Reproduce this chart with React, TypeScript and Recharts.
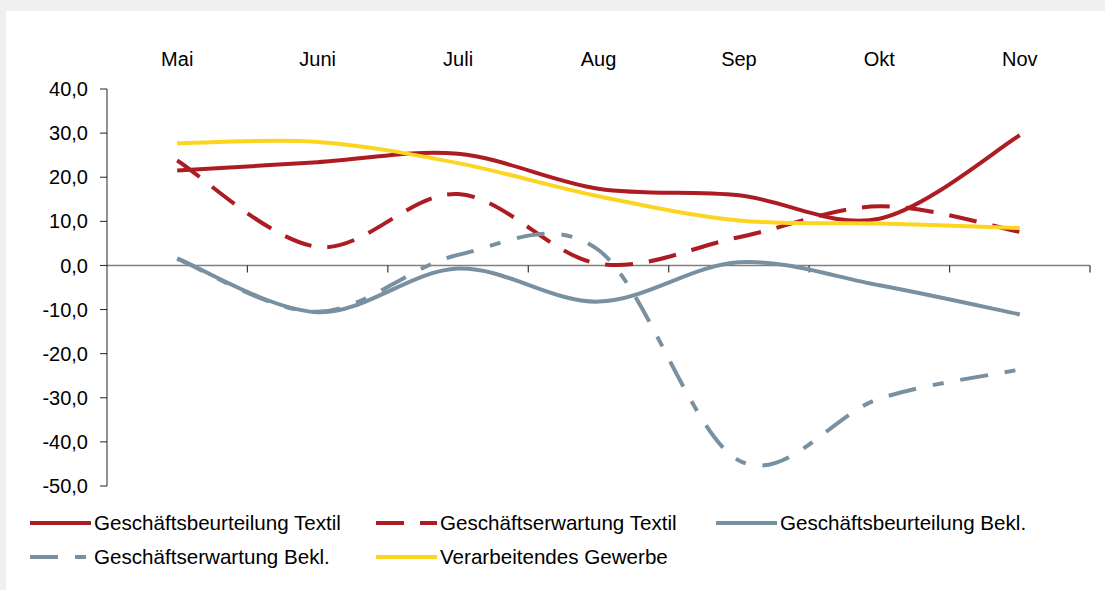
import React from "react";
import { LineChart, Line, XAxis, YAxis, ReferenceLine, Legend } from "recharts";

const months = ["Mai", "Juni", "Juli", "Aug", "Sep", "Okt", "Nov"];
const yTicks = [-50, -40, -30, -20, -10, 0, 10, 20, 30, 40];

const beurteilungTextil = [21.5, 23.4, 25.3, 17.4, 15.9, 10.6, 29.5];
const erwartungTextil = [23.8, 4.2, 16.2, 0.4, 6.4, 13.4, 7.6];
const beurteilungBekl = [1.6, -10.6, -0.7, -8.2, 0.7, -4.5, -11.1];
const erwartungBekl = [1.5, -10.5, 2.4, 3.5, -44.2, -30.2, -23.6];
const verarbeitendesGewerbe = [27.7, 28.0, 23.2, 15.7, 10.2, 9.5, 8.5];

const FONT = "'Liberation Sans', Arial, sans-serif";
const RED = "#AD1C22";
const GREY = "#7890A0";
const YELLOW = "#FDD520";

type Series = { key: string; name: string; values: number[]; color: string; dash?: string };

const series: Series[] = [
  { key: "bt", name: "Geschäftsbeurteilung Textil", values: beurteilungTextil, color: RED },
  { key: "et", name: "Geschäftserwartung Textil", values: erwartungTextil, color: RED, dash: "28 16" },
  { key: "bb", name: "Geschäftsbeurteilung Bekl.", values: beurteilungBekl, color: GREY },
  { key: "eb", name: "Geschäftserwartung Bekl.", values: erwartungBekl, color: GREY, dash: "28 17 11 17" },
  { key: "vg", name: "Verarbeitendes Gewerbe", values: verarbeitendesGewerbe, color: YELLOW },
];

// every month sits in the middle of its band on a 0..7 scale
const data = months.map((m, i) => {
  const row: Record<string, number | string> = { month: m, x: i + 0.5 };
  series.forEach((s) => {
    row[s.key] = s.values[i];
  });
  return row;
});

const monthTicks = months.map((_, i) => i + 0.5);
const bandEdges = months.map((_, i) => i + 1);

// smoothed line through every point (Catmull-Rom as bezier segments)
const smoothCurve = (context: any) => {
  let pts: number[][] = [];
  return {
    areaStart() {},
    areaEnd() {},
    lineStart() {
      pts = [];
    },
    point(x: number, y: number) {
      pts.push([+x, +y]);
    },
    lineEnd() {
      if (!pts.length) return;
      context.moveTo(pts[0][0], pts[0][1]);
      for (let i = 0; i < pts.length - 1; i++) {
        const p0 = pts[i - 1] || pts[i];
        const p1 = pts[i];
        const p2 = pts[i + 1];
        const p3 = pts[i + 2] || p2;
        context.bezierCurveTo(
          p1[0] + (p2[0] - p0[0]) / 6,
          p1[1] + (p2[1] - p0[1]) / 6,
          p2[0] - (p3[0] - p1[0]) / 6,
          p2[1] - (p3[1] - p1[1]) / 6,
          p2[0],
          p2[1]
        );
      }
    },
  };
};

// legend grid: three columns in the first row, two in the second
const legendSpots = [
  { left: 30, top: 18 },
  { left: 376, top: 18 },
  { left: 716, top: 18 },
  { left: 30, top: 52 },
  { left: 376, top: 52 },
];

const renderLegend = () => (
  <div style={{ position: "relative", width: 1105, height: 70, fontFamily: FONT }}>
    {series.map((s, i) => (
      <div
        key={s.key}
        style={{
          position: "absolute",
          left: legendSpots[i].left,
          top: legendSpots[i].top - 12,
          height: 24,
          display: "flex",
          alignItems: "center",
          whiteSpace: "nowrap",
        }}
      >
        <svg width={61} height={6} style={{ display: "block" }}>
          <line x1={0} y1={3} x2={61} y2={3} stroke={s.color} strokeWidth={4} strokeDasharray={s.dash} />
        </svg>
        <span style={{ marginLeft: 3, fontSize: 20.6, color: "#000" }}>{s.name}</span>
      </div>
    ))}
  </div>
);

const fmt = (v: number) => v.toFixed(1).replace(".", ",");

export default function App() {
  return (
    <div
      style={{
        position: "absolute",
        left: 0,
        top: 0,
        width: 1105,
        height: 590,
        background: "#EEF0F2",
        overflow: "hidden",
        fontFamily: FONT,
      }}
    >
      <div style={{ position: "absolute", left: 6, top: 11, right: 0, bottom: 0, background: "#fff" }} />
      <div style={{ position: "absolute", left: 0, top: 0 }}>
        <LineChart width={1105} height={590} data={data} margin={{ top: 40, right: 15, bottom: 104, left: 47 }}>
          <XAxis
            type="number"
            dataKey="x"
            domain={[0, 7]}
            ticks={monthTicks}
            interval={0}
            orientation="top"
            height={49}
            axisLine={false}
            tickLine={false}
            tickSize={0}
            tickMargin={23}
            tickFormatter={(v: number) => months[Math.floor(v)]}
            tick={{ fill: "#000", fontSize: 20, fontFamily: FONT }}
          />
          <YAxis
            type="number"
            domain={[-50, 40]}
            ticks={yTicks}
            interval={0}
            width={60}
            tickSize={7}
            tickMargin={12}
            tickFormatter={fmt}
            axisLine={{ stroke: "#222", strokeWidth: 1 }}
            tickLine={{ stroke: "#222", strokeWidth: 1 }}
            tick={{ fill: "#000", fontSize: 20, fontFamily: FONT }}
          />
          <ReferenceLine y={0} stroke="#808080" strokeWidth={1.5} />
          {bandEdges.map((b) => (
            <ReferenceLine
              key={b}
              segment={[
                { x: b, y: 0 },
                { x: b, y: -1.6 },
              ]}
              stroke="#333"
              strokeWidth={1.2}
            />
          ))}
          {series.map((s) => (
            <Line
              key={s.key}
              type={smoothCurve as any}
              dataKey={s.key}
              name={s.name}
              stroke={s.color}
              strokeWidth={4}
              strokeDasharray={s.dash}
              dot={false}
              activeDot={false}
              isAnimationActive={false}
            />
          ))}
          <Legend
            layout="horizontal"
            verticalAlign="middle"
            align="center"
            content={renderLegend}
            wrapperStyle={{ left: 0, top: 505, width: 1105, height: 70 }}
          />
        </LineChart>
      </div>
    </div>
  );
}
